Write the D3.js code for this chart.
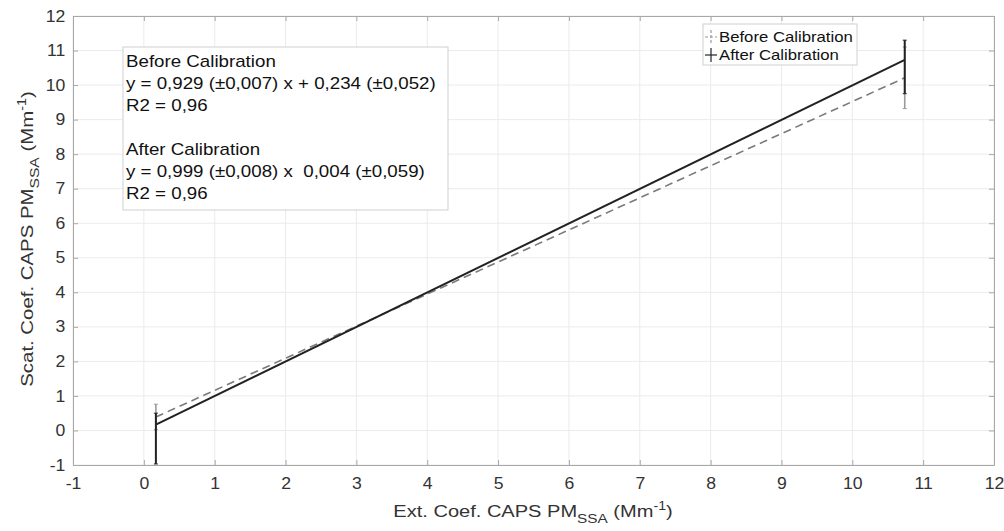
<!DOCTYPE html>
<html><head><meta charset="utf-8">
<script src="https://cdn.jsdelivr.net/npm/d3@7"></script>
<style>body{margin:0;background:#fff}svg{display:block}text{font-family:"Liberation Sans",Arial,sans-serif;white-space:pre}</style>
</head><body><svg id="c" width="1004" height="531"></svg>
<script>
const xTicks = [-1,0,1,2,3,4,5,6,7,8,9,10,11,12];
const yTicks = [-1,0,1,2,3,4,5,6,7,8,9,10,11,12];
const seriesNames = ["Before Calibration","After Calibration"];
const lineX = [0.17, 10.74];
const beforeY = [0.39, 10.21];
const afterY = [0.17, 10.73];
const beforeLow = [0.02, 9.32];
const beforeHigh = [0.76, 11.10];
const afterLow = [-0.97, 9.75];
const afterHigh = [0.50, 11.30];
const boxLines = ["Before Calibration","y = 0,929 (±0,007) x + 0,234 (±0,052)","R2 = 0,96","","After Calibration","y = 0,999 (±0,008) x  0,004 (±0,059)","R2 = 0,96"];

const SX = 1.17; // horizontal text stretch
const svg = d3.select("#c");
const L=73, R=994, T=16, B=465;
const x = d3.scaleLinear().domain([-1,12]).range([L,R]);
const y = d3.scaleLinear().domain([-1,12]).range([B,T]);

// grid
svg.append("g").selectAll("line").data(xTicks).join("line")
  .attr("x1",d=>x(d)).attr("x2",d=>x(d)).attr("y1",T).attr("y2",B)
  .attr("stroke","#ebebeb").attr("stroke-width",1);
svg.append("g").selectAll("line").data(yTicks).join("line")
  .attr("y1",d=>y(d)).attr("y2",d=>y(d)).attr("x1",L).attr("x2",R)
  .attr("stroke","#ebebeb").attr("stroke-width",1);

const fmt = d => String(d);
// axes
const ax = svg.append("g").attr("transform",`translate(0,${B})`)
  .call(d3.axisBottom(x).tickValues(xTicks).tickFormat(fmt).tickSizeInner(-5).tickSizeOuter(0).tickPadding(13));
const ay = svg.append("g").attr("transform",`translate(${L},0)`)
  .call(d3.axisLeft(y).tickValues(yTicks).tickFormat(fmt).tickSizeInner(-5).tickSizeOuter(0).tickPadding(7));
const axTop = svg.append("g").attr("transform",`translate(0,${T})`)
  .call(d3.axisTop(x).tickValues(xTicks).tickSizeInner(-5).tickSizeOuter(0).tickFormat(""));
const ayR = svg.append("g").attr("transform",`translate(${R},0)`)
  .call(d3.axisRight(y).tickValues(yTicks).tickSizeInner(-5).tickSizeOuter(0).tickFormat(""));
[ax,ay,axTop,ayR].forEach(g=>{
  g.select(".domain").attr("stroke","#a8a8a8");
  g.selectAll(".tick line").attr("stroke","#a8a8a8");
  g.selectAll(".tick text").attr("fill","#333").attr("font-size",16).attr("transform","scale(1.1,1)")
   .style("font-family","Liberation Sans, Arial, sans-serif");
});

// lines
svg.append("line").attr("x1",x(lineX[0])).attr("y1",y(beforeY[0])).attr("x2",x(lineX[1])).attr("y2",y(beforeY[1]))
  .attr("stroke","#7a7a7a").attr("stroke-width",1.6).attr("stroke-dasharray","8,5");
svg.append("line").attr("x1",x(lineX[0])).attr("y1",y(afterY[0])).attr("x2",x(lineX[1])).attr("y2",y(afterY[1]))
  .attr("stroke","#222").attr("stroke-width",2);

// error bars
function ebar(lo,hi,color,w){
  lineX.forEach((xv,i)=>{
    const g=svg.append("g");
    g.append("line").attr("x1",x(xv)).attr("x2",x(xv)).attr("y1",y(lo[i])).attr("y2",y(hi[i])).attr("stroke",color).attr("stroke-width",w);
    [lo[i],hi[i]].forEach(v=>g.append("line").attr("x1",x(xv)-2).attr("x2",x(xv)+2).attr("y1",y(v)).attr("y2",y(v)).attr("stroke",color).attr("stroke-width",1));
  });
}
ebar(beforeLow,beforeHigh,"#9a9a9a",1.6);
ebar(afterLow,afterHigh,"#222",2);

// text box
svg.append("rect").attr("x",123).attr("y",47).attr("width",325).attr("height",163)
  .attr("fill","#fff").attr("stroke","#d0d0d0").attr("stroke-width",1);
svg.append("g").selectAll("g").data(boxLines).join("g")
  .attr("transform",(d,i)=>`translate(126,${67+i*22}) scale(${SX},1)`)
  .append("text").attr("font-size",16).attr("fill","#111").text(d=>d);

// legend
const lg = svg.append("g");
lg.append("rect").attr("x",703).attr("y",24).attr("width",154).attr("height",41).attr("fill","#fff").attr("stroke","#d0d0d0");
const legY=[37,55];
seriesNames.forEach((n,i)=>{
  const c = i===0?"#9a9a9a":"#222";
  const cx=711, cy=legY[i];
  lg.append("line").attr("x1",cx).attr("x2",cx).attr("y1",cy-7).attr("y2",cy+7).attr("stroke",c).attr("stroke-width",1.2).attr("stroke-dasharray",i===0?"3,2":null);
  lg.append("line").attr("x1",cx-6).attr("x2",cx+6).attr("y1",cy).attr("y2",cy).attr("stroke",c).attr("stroke-width",1.2).attr("stroke-dasharray",i===0?"3,2":null);
  lg.append("g").attr("transform",`translate(719,${cy+5}) scale(${SX},1)`)
    .append("text").attr("font-size",14.3).attr("fill","#111").text(n);
});

// axis labels
const xl = svg.append("g").attr("transform",`translate(533,517) scale(1.18,1)`)
  .append("text").attr("text-anchor","middle").attr("font-size",17).attr("fill","#333");
xl.append("tspan").text("Ext. Coef. CAPS PM");
xl.append("tspan").attr("dy",6).attr("font-size",13).text("SSA");
xl.append("tspan").attr("dy",-6).text(" (Mm");
xl.append("tspan").attr("dy",-7).attr("font-size",12).text("-1");
xl.append("tspan").attr("dy",7).text(")");

const yl = svg.append("g").attr("transform","translate(33,239) rotate(-90) scale(1.2,1)")
  .append("text").attr("text-anchor","middle").attr("font-size",17).attr("fill","#333");
yl.append("tspan").text("Scat. Coef. CAPS PM");
yl.append("tspan").attr("dy",6).attr("font-size",13).text("SSA");
yl.append("tspan").attr("dy",-6).text(" (Mm");
yl.append("tspan").attr("dy",-7).attr("font-size",12).text("-1");
yl.append("tspan").attr("dy",7).text(")");
</script></body></html>
